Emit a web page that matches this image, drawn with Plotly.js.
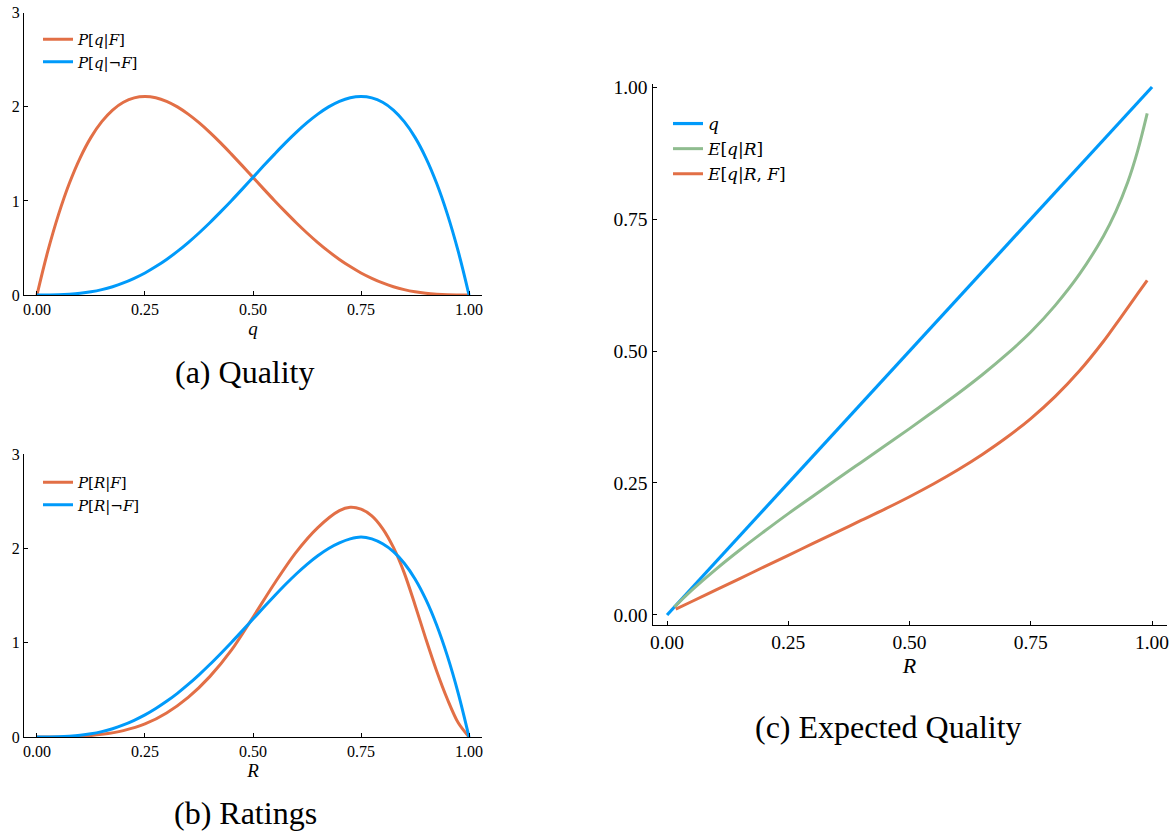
<!DOCTYPE html>
<html>
<head>
<meta charset="utf-8">
<script src="https://cdn.plot.ly/plotly-3.0.1.min.js"></script>
<style>html,body{margin:0;padding:0;background:#fff;}#chart{width:1175px;height:832px;}</style>
</head>
<body>
<div id="chart"></div>
<script>
// ---- (a) Quality ----
const qGrid = [0,0.025,0.05,0.075,0.1,0.125,0.15,0.175,0.2,0.225,0.25,0.275,0.3,0.325,0.35,0.375,0.4,0.425,0.45,0.475,0.5,
               0.525,0.55,0.575,0.6,0.625,0.65,0.675,0.7,0.725,0.75,0.775,0.8,0.825,0.85,0.875,0.9,0.925,0.95,0.975,1.0];
const pqF    = [0,0.463,0.857,1.187,1.458,1.675,1.842,1.965,2.048,2.095,2.109,2.096,2.058,1.999,1.922,1.831,1.728,1.616,1.497,1.375,1.25,
               1.125,1.002,0.883,0.768,0.659,0.557,0.463,0.378,0.302,0.234,0.177,0.128,0.088,0.057,0.034,0.018,0.008,0.002,0.0003,0];
const pqNotF = [0,0.0003,0.002,0.008,0.018,0.034,0.057,0.088,0.128,0.177,0.234,0.302,0.378,0.463,0.557,0.659,0.768,0.883,1.002,1.125,1.25,
               1.375,1.497,1.616,1.728,1.831,1.922,1.999,2.058,2.096,2.109,2.095,2.048,1.965,1.842,1.675,1.458,1.187,0.857,0.463,0];

// ---- (b) Ratings ----
const rGridF = [0,0.05,0.1,0.15,0.2,0.25,0.3,0.35,0.4,0.45,0.5,0.55,0.6,0.65,0.7,0.725,0.75,0.775,0.8,0.825,0.85,0.875,0.9,0.925,0.95,0.975,1.0];
const prF    = [0,0.001,0.007,0.028,0.068,0.138,0.255,0.42,0.64,0.92,1.27,1.63,1.96,2.22,2.40,2.435,2.415,2.345,2.21,2.01,1.74,1.40,1.04,0.70,0.40,0.15,0];
const rGridNotF = [0,0.025,0.05,0.075,0.1,0.125,0.15,0.175,0.2,0.225,0.25,0.275,0.3,0.325,0.35,0.375,0.4,0.425,0.45,0.475,0.5,
                   0.525,0.55,0.575,0.6,0.625,0.65,0.675,0.7,0.725,0.75,0.775,0.8,0.825,0.85,0.875,0.9,0.925,0.95,0.975,1.0];
const prNotF = [0,0.0003,0.002,0.008,0.018,0.034,0.057,0.088,0.128,0.177,0.234,0.302,0.378,0.463,0.557,0.659,0.768,0.883,1.002,1.125,1.25,
                1.375,1.497,1.616,1.728,1.831,1.922,1.999,2.058,2.1,2.12,2.1,2.048,1.965,1.842,1.675,1.458,1.187,0.857,0.463,0];

// ---- (c) Expected Quality ----
const identR = [0,1];
const identQ = [0,1];
const eqR_R   = [0.015,0.05,0.1,0.15,0.2,0.25,0.3,0.35,0.4,0.45,0.5,0.55,0.6,0.65,0.7,0.75,0.8,0.85,0.9,0.925,0.95,0.97,0.99];
const eqR_val = [0.015,0.046,0.086,0.123,0.158,0.192,0.2245,0.257,0.289,0.321,0.353,0.386,0.4195,0.455,0.4935,0.536,0.586,0.645,0.718,0.7635,0.82,0.878,0.95];
const eqRF_R   = [0.018,0.05,0.1,0.15,0.2,0.25,0.3,0.35,0.4,0.45,0.5,0.55,0.6,0.65,0.7,0.75,0.8,0.85,0.9,0.925,0.95,0.97,0.99];
const eqRF_val = [0.011,0.025,0.047,0.069,0.091,0.113,0.135,0.157,0.179,0.201,0.224,0.2485,0.275,0.304,0.336,0.372,0.4135,0.462,0.5185,0.55,0.582,0.608,0.634];

const unitTicks = [0,0.25,0.5,0.75,1.0];
const unitTickText = ["0.00","0.25","0.50","0.75","1.00"];
const densTicks = [0,1,2,3];
const densTickText = ["0","1","2","3"];

const names = {
  a1: "<i>P</i>[<i>q</i>|<i>F</i>]",
  a2: "<i>P</i>[<i>q</i>|¬<i>F</i>]",
  b1: "<i>P</i>[<i>R</i>|<i>F</i>]",
  b2: "<i>P</i>[<i>R</i>|¬<i>F</i>]",
  c1: "<i>q</i>",
  c2: "<i>E</i>[<i>q</i>|<i>R</i>]",
  c3: "<i>E</i>[<i>q</i>|<i>R</i>, <i>F</i>]"
};

const BLUE = "#009AFA", ORANGE = "#E26F46", GREEN = "#8FBC8F";
const FONT = "Liberation Serif, DejaVu Serif, serif";
const LFONT = "DejaVu Serif, Liberation Serif, serif";

function ln(color, sm){ return {color: color, width: 3, shape: "spline", smoothing: sm}; }

const traces = [
  {x: qGrid, y: pqF, mode: "lines", name: names.a1, line: ln(ORANGE, 1), xaxis: "x", yaxis: "y", legend: "legend"},
  {x: qGrid, y: pqNotF, mode: "lines", name: names.a2, line: ln(BLUE, 1), xaxis: "x", yaxis: "y", legend: "legend"},
  {x: rGridF, y: prF, mode: "lines", name: names.b1, line: ln(ORANGE, 0.9), xaxis: "x2", yaxis: "y2", legend: "legend2"},
  {x: rGridNotF, y: prNotF, mode: "lines", name: names.b2, line: ln(BLUE, 1), xaxis: "x2", yaxis: "y2", legend: "legend2"},
  {x: identR, y: identQ, mode: "lines", name: names.c1, line: {color: BLUE, width: 3.2}, xaxis: "x3", yaxis: "y3", legend: "legend3"},
  {x: eqR_R, y: eqR_val, mode: "lines", name: names.c2, line: ln(GREEN, 1), xaxis: "x3", yaxis: "y3", legend: "legend3"},
  {x: eqRF_R, y: eqRF_val, mode: "lines", name: names.c3, line: ln(ORANGE, 1), xaxis: "x3", yaxis: "y3", legend: "legend3"}
];

function axis(extra){
  return Object.assign({
    showline: true, linecolor: "#000", linewidth: 1,
    ticks: "inside", ticklen: 4, tickcolor: "#000", tickwidth: 1,
    showgrid: false, zeroline: false, mirror: false,
    tickfont: {family: FONT, size: 16, color: "#000"}
  }, extra);
}

const W = 1175, H = 832;
function px(a){ return a / W; }
function py(b){ return 1 - b / H; }

const layout = {
  width: W, height: H,
  margin: {l: 0, r: 0, t: 0, b: 0},
  paper_bgcolor: "#fff", plot_bgcolor: "#fff",
  font: {family: FONT, color: "#000"},
  showlegend: true,
  xaxis: axis({domain: [px(24), px(482)], range: [-0.03, 1.03], tickvals: unitTicks, ticktext: unitTickText, anchor: "y",
    title: {text: "<i>q</i>", font: {family: FONT, size: 19}, standoff: 0}}),
  yaxis: axis({domain: [py(295), py(12.7)], range: [0, 3], tickvals: densTicks, ticktext: densTickText, anchor: "x"}),
  xaxis2: axis({domain: [px(24), px(482)], range: [-0.03, 1.03], tickvals: unitTicks, ticktext: unitTickText, anchor: "y2",
    title: {text: "<i>R</i>", font: {family: FONT, size: 19}, standoff: 0}}),
  yaxis2: axis({domain: [py(737), py(454)], range: [0, 3], tickvals: densTicks, ticktext: densTickText, anchor: "x2"}),
  xaxis3: axis({domain: [px(652.5), px(1166.6)], range: [-0.03, 1.03], tickvals: unitTicks, ticktext: unitTickText, anchor: "y3",
    tickfont: {family: FONT, size: 19.5, color: "#000"},
    title: {text: "<i>R</i>", font: {family: FONT, size: 22}, standoff: 2}}),
  yaxis3: axis({domain: [py(625), py(84.4)], range: [-0.019, 1.005], tickvals: unitTicks, ticktext: unitTickText, anchor: "x3",
    tickfont: {family: FONT, size: 19.5, color: "#000"}}),
  legend: {x: px(38), y: py(23), xanchor: "left", yanchor: "top", bgcolor: "rgba(0,0,0,0)", borderwidth: 0,
    font: {family: LFONT, size: 15, color: "#000"}, tracegroupgap: 0, itemwidth: 30},
  legend2: {x: px(38), y: py(466), xanchor: "left", yanchor: "top", bgcolor: "rgba(0,0,0,0)", borderwidth: 0,
    font: {family: LFONT, size: 15, color: "#000"}, tracegroupgap: 0, itemwidth: 30},
  legend3: {x: px(668), y: py(106), xanchor: "left", yanchor: "top", bgcolor: "rgba(0,0,0,0)", borderwidth: 0,
    font: {family: LFONT, size: 17, color: "#000"}, tracegroupgap: 0, itemwidth: 30},
  annotations: [
    {text: "(a) Quality", xref: "paper", yref: "paper", x: px(245), y: py(372), xanchor: "center", yanchor: "middle", showarrow: false,
      font: {family: FONT, size: 32, color: "#000"}},
    {text: "(b) Ratings", xref: "paper", yref: "paper", x: px(245), y: py(813), xanchor: "center", yanchor: "middle", showarrow: false,
      font: {family: FONT, size: 32, color: "#000"}},
    {text: "(c) Expected Quality", xref: "paper", yref: "paper", x: px(888), y: py(727), xanchor: "center", yanchor: "middle", showarrow: false,
      font: {family: FONT, size: 32, color: "#000"}}
  ]
};

Plotly.newPlot("chart", traces, layout, {displayModeBar: false, staticPlot: true});
</script>
</body>
</html>
